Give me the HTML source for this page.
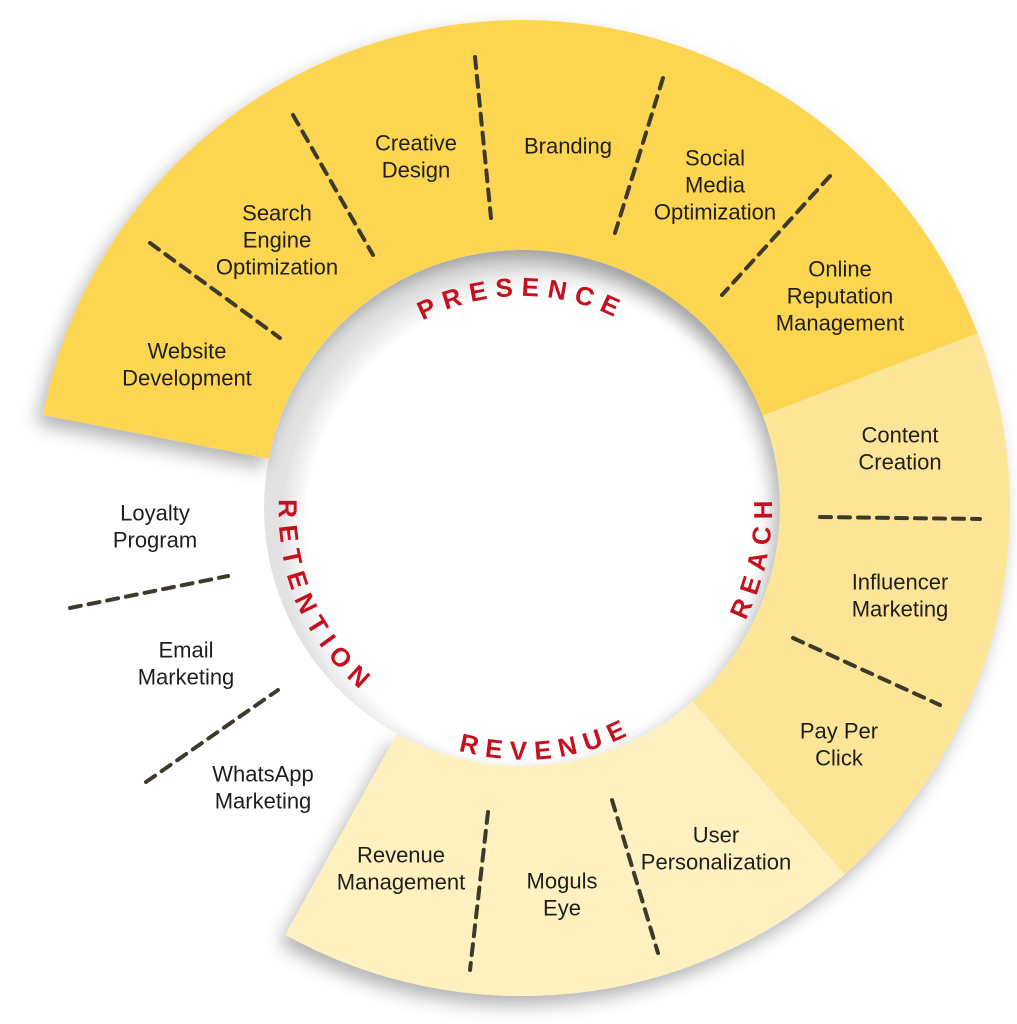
<!DOCTYPE html>
<html><head><meta charset="utf-8"><style>
html,body{margin:0;padding:0;background:#fff;}
svg{display:block;}
.l{font-family:"Liberation Sans",sans-serif;font-size:22px;fill:#1e1e1e;text-anchor:middle;dominant-baseline:central;}
.h{font-family:"Liberation Sans",sans-serif;font-size:26px;font-weight:bold;fill:#c5101f;letter-spacing:8px;}
.d{stroke:#3d3a2a;stroke-width:4;stroke-dasharray:11 8;stroke-linecap:round;fill:none;}
</style></head><body>
<svg width="1017" height="1024" viewBox="0 0 1017 1024" xmlns="http://www.w3.org/2000/svg">
<defs>
<filter id="sh" x="-20%" y="-20%" width="140%" height="140%">
<feDropShadow dx="-6" dy="9" stdDeviation="9" flood-color="#000" flood-opacity="0.3"/>
</filter>
<radialGradient id="ig" cx="545" cy="530" r="265" gradientUnits="userSpaceOnUse">
<stop offset="0.9" stop-color="#fff"/><stop offset="1" stop-color="#e2e2e2"/>
</radialGradient>
<path id="pP" d="M522,720 A212,212 0 0 1 522,296 A212,212 0 0 1 522,720"/>
<path id="pR" d="M277.1,457.7 A250,250 0 0 0 766.9,558.3 A250,250 0 0 0 277.1,457.7"/>
<path id="pT" d="M745.8,408.4 A245,245 0 0 0 298.2,607.6 A245,245 0 0 0 745.8,408.4"/>
<path id="pV" d="M495.7,257.4 A252,252 0 0 0 548.3,758.6 A252,252 0 0 0 495.7,257.4"/>
</defs>
<circle cx="522" cy="508" r="258" fill="url(#ig)"/>
<g filter="url(#sh)">
<path d="M43,414.9 A488,488 0 0 1 977.6,333.1 L762.9,415.5 A258,258 0 0 0 268.7,458.8 Z" fill="#fdd651"/>
<path d="M977.6,333.1 A488,488 0 0 1 844.7,874.1 L692.6,701.5 A258,258 0 0 0 762.9,415.5 Z" fill="#fde597"/>
<path d="M844.7,874.1 A488,488 0 0 1 285.4,934.8 L396.9,733.7 A258,258 0 0 0 692.6,701.5 Z" fill="#fef1bf"/>
</g>
<g class="d">
<line x1="150" y1="243" x2="280" y2="338"/>
<line x1="293" y1="115" x2="373" y2="255"/>
<line x1="475" y1="57" x2="491" y2="218"/>
<line x1="663" y1="78" x2="615" y2="233"/>
<line x1="830" y1="176" x2="722" y2="295"/>
<line x1="820" y1="517" x2="980" y2="519"/>
<line x1="793" y1="638" x2="940" y2="705"/>
<line x1="488" y1="812" x2="470" y2="970"/>
<line x1="612" y1="800" x2="658" y2="953"/>
<line x1="70" y1="608" x2="228" y2="576"/>
<line x1="146" y1="782" x2="278" y2="690"/>
</g>
<text class="h"><textPath href="#pP" startOffset="50%" text-anchor="middle">PRESENCE</textPath></text>
<text class="h"><textPath href="#pR" startOffset="50%" text-anchor="middle">REACH</textPath></text>
<text class="h"><textPath href="#pT" startOffset="50%" text-anchor="middle">RETENTION</textPath></text>
<text class="h"><textPath href="#pV" startOffset="50%" text-anchor="middle">REVENUE</textPath></text>
<g class="l">
<text x="187" y="351">Website</text><text x="187" y="378">Development</text>
<text x="277" y="213">Search</text><text x="277" y="240">Engine</text><text x="277" y="267">Optimization</text>
<text x="416" y="143">Creative</text><text x="416" y="170">Design</text>
<text x="568" y="146">Branding</text>
<text x="715" y="158">Social</text><text x="715" y="185">Media</text><text x="715" y="212">Optimization</text>
<text x="840" y="269">Online</text><text x="840" y="296">Reputation</text><text x="840" y="323">Management</text>
<text x="900" y="435">Content</text><text x="900" y="462">Creation</text>
<text x="900" y="582">Influencer</text><text x="900" y="609">Marketing</text>
<text x="839" y="731">Pay Per</text><text x="839" y="758">Click</text>
<text x="716" y="835">User</text><text x="716" y="862">Personalization</text>
<text x="562" y="881">Moguls</text><text x="562" y="908">Eye</text>
<text x="401" y="855">Revenue</text><text x="401" y="882">Management</text>
<text x="263" y="774">WhatsApp</text><text x="263" y="801">Marketing</text>
<text x="186" y="650">Email</text><text x="186" y="677">Marketing</text>
<text x="155" y="513">Loyalty</text><text x="155" y="540">Program</text>
</g>
</svg>
</body></html>
